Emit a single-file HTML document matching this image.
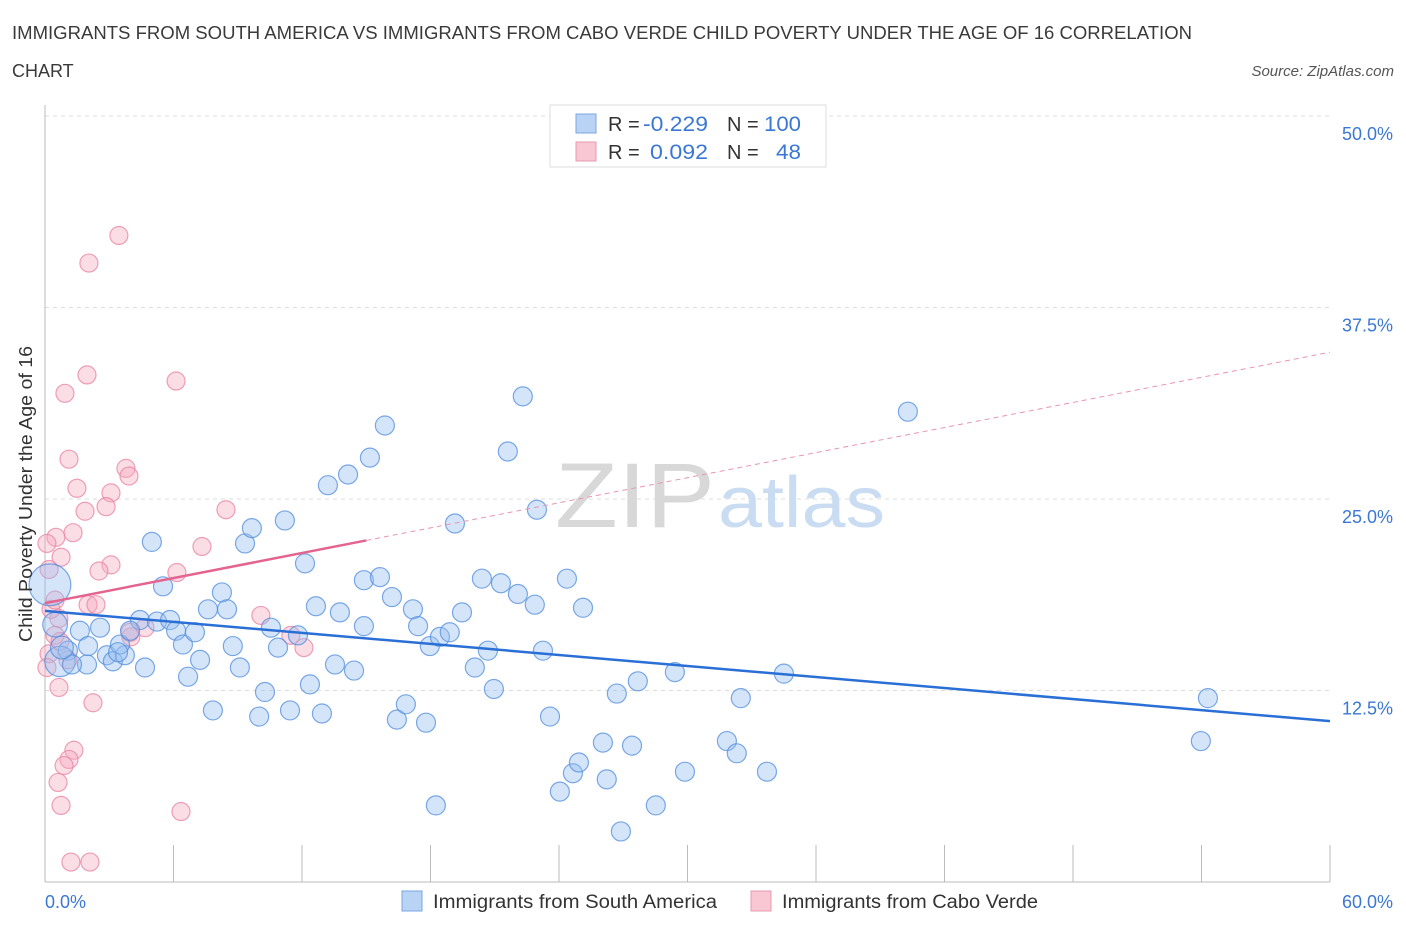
<!DOCTYPE html>
<html><head><meta charset="utf-8"><style>
body{margin:0;background:#fff;font-family:"Liberation Sans",sans-serif;}
svg text{font-family:"Liberation Sans",sans-serif;}
</style></head><body>
<svg width="1406" height="930" xmlns="http://www.w3.org/2000/svg" id="chart">
<text x="12" y="39" font-size="18" fill="#3a3a3a" textLength="1180" lengthAdjust="spacingAndGlyphs">IMMIGRANTS FROM SOUTH AMERICA VS IMMIGRANTS FROM CABO VERDE CHILD POVERTY UNDER THE AGE OF 16 CORRELATION</text>
<text x="12" y="77" font-size="18" fill="#3a3a3a">CHART</text>
<text x="1394" y="76" font-size="15" fill="#555" text-anchor="end" font-style="italic">Source: ZipAtlas.com</text>
<g id="grid"></g>
<text x="555" y="527" font-size="92" fill="#d8d8d8" textLength="160" lengthAdjust="spacingAndGlyphs" font-family="Liberation Serif">ZIP</text>
<text x="718" y="527" font-size="72" fill="#c9dcf2" textLength="167" lengthAdjust="spacingAndGlyphs">atlas</text>
<g id="pts"></g>
<g id="trend"></g>
<text x="32" y="494" font-size="18" fill="#333" text-anchor="middle" textLength="296" lengthAdjust="spacingAndGlyphs" transform="rotate(-90 32 494)">Child Poverty Under the Age of 16</text>
<text x="45" y="908" font-size="18" fill="#3a78d4">0.0%</text>
<text x="1393" y="908" font-size="18" fill="#3a78d4" text-anchor="end">60.0%</text>
<g>
<rect x="550" y="105" width="276" height="62" fill="#fff" stroke="#ddd"/>
<rect x="576" y="114" width="20" height="19" fill="#b9d3f5" stroke="#7aa7e2"/>
<rect x="576" y="142" width="20" height="19" fill="#f9c6d3" stroke="#e99ab0"/>
<text x="608" y="131" font-size="20" fill="#333">R =</text>
<text x="643" y="131" font-size="21" fill="#3a78d4" textLength="65" lengthAdjust="spacingAndGlyphs">-0.229</text>
<text x="727" y="131" font-size="20" fill="#333">N =</text>
<text x="764" y="131" font-size="21" fill="#3a78d4" textLength="37" lengthAdjust="spacingAndGlyphs">100</text>
<text x="608" y="159" font-size="20" fill="#333">R =</text>
<text x="650" y="159" font-size="21" fill="#3a78d4" textLength="58" lengthAdjust="spacingAndGlyphs">0.092</text>
<text x="727" y="159" font-size="20" fill="#333">N =</text>
<text x="776" y="159" font-size="21" fill="#3a78d4" textLength="25" lengthAdjust="spacingAndGlyphs">48</text>
</g>
<g>
<rect x="402" y="891" width="20" height="20" fill="#b9d3f5" stroke="#7aa7e2"/>
<text x="433" y="908" font-size="19" fill="#333" textLength="284" lengthAdjust="spacingAndGlyphs">Immigrants from South America</text>
<rect x="751" y="891" width="20" height="20" fill="#f9c6d3" stroke="#e99ab0"/>
<text x="782" y="908" font-size="19" fill="#333" textLength="256" lengthAdjust="spacingAndGlyphs">Immigrants from Cabo Verde</text>
</g>
</svg>
<script>
const yTicks=[12.5,25,37.5,50];
const yTickLabels=["12.5%","25.0%","37.5%","50.0%"];
const xTicks=[0,6,12,18,24,30,36,42,48,54,60];
const blueX=[2.57,1.63,1.07,1.96,2.89,3.17,3.73,4.67,3.5,4.43,3.97,5.23,5.84,6.12,6.44,7.0,7.24,6.68,7.84,7.61,8.26,8.5,8.77,9.1,9.34,9.66,10.0,10.27,10.55,10.88,11.2,11.44,11.81,12.14,12.37,12.65,12.93,13.21,13.54,13.77,14.15,14.43,14.89,14.89,15.17,15.64,15.87,16.2,16.43,16.85,17.18,17.42,17.79,17.97,18.25,18.44,18.9,19.14,19.47,20.07,20.4,20.68,20.96,21.29,21.61,22.08,22.31,22.87,22.97,23.25,23.58,24.04,24.37,24.65,24.93,25.12,26.05,26.23,26.7,26.89,27.41,27.68,28.52,29.41,29.88,31.84,32.3,32.49,33.71,34.5,40.29,53.97,54.3,0.23,0.7,0.47,1.26,0.79,2.01,3.41,4.99,5.51];
const blueY=[16.6,16.4,15.1,14.2,14.8,14.4,14.8,14.0,15.5,17.1,16.4,17.0,17.1,16.4,15.5,16.3,14.5,13.4,11.2,17.8,18.9,17.8,15.4,14.0,22.1,23.1,10.8,12.4,16.6,15.3,23.6,11.2,16.1,20.8,12.9,18.0,11.0,25.9,14.2,17.6,26.6,13.8,19.7,16.7,27.7,19.9,29.8,18.6,10.6,11.6,17.8,16.7,10.4,15.4,5.0,16.0,16.3,23.4,17.6,14.0,19.8,15.1,12.6,19.5,28.1,18.8,31.7,18.1,24.3,15.1,10.8,5.9,19.8,7.1,7.8,17.9,9.1,6.7,12.3,3.3,8.9,13.1,5.0,13.7,7.2,9.2,8.4,12.0,7.2,13.6,30.7,9.2,12.0,19.4,14.4,16.8,14.2,15.3,15.4,15.0,22.2,19.3];
const blueSize=[1,1,1,1,1,1,1,1,1,1,1,1,1,1,1,1,1,1,1,1,1,1,1,1,1,1,1,1,1,1,1,1,1,1,1,1,1,1,1,1,1,1,1,1,1,1,1,1,1,1,1,1,1,1,1,1,1,1,1,1,1,1,1,1,1,1,1,1,1,1,1,1,1,1,1,1,1,1,1,1,1,1,1,1,1,1,1,1,1,1,1,1,1,2.2,1.6,1.3,1,1.2,1,1,1,1];
const pinkX=[3.45,2.05,1.96,6.12,0.93,1.12,3.78,3.92,1.49,3.08,2.85,1.87,8.45,0.51,0.09,1.31,7.33,0.75,3.08,2.52,6.16,0.19,2.01,2.38,0.65,10.08,4.67,4.01,0.47,11.48,12.09,0.19,0.7,0.09,1.07,0.28,0.65,2.24,1.35,1.12,0.89,0.61,0.75,6.35,1.21,2.1,3.97,0.47];
const pinkY=[42.2,40.4,33.1,32.7,31.9,27.6,27.0,26.5,25.7,25.4,24.5,24.2,24.3,22.5,22.1,22.8,21.9,21.2,20.7,20.3,20.2,20.4,18.1,18.1,17.2,17.4,16.6,16.0,16.1,16.1,15.3,14.9,15.7,14.0,14.5,17.8,12.7,11.7,8.6,8.0,7.6,6.5,5.0,4.6,1.3,1.3,16.3,18.4];
const blueTrend=[17.7,-0.12];   // intercept, slope
const pinkTrend=[18.2,0.273];
const pinkSolidEnd=15;

const NS="http://www.w3.org/2000/svg";
const xs=v=>45+v*1285/60;
const ys=v=>882-v*15.32;
function mk(t,a,p){const e=document.createElementNS(NS,t);for(const k in a)e.setAttribute(k,a[k]);p.appendChild(e);return e;}
const grid=document.getElementById('grid');
yTicks.forEach((v,i)=>{
  const g=mk('line',{x1:45,y1:ys(v),x2:1330,y2:ys(v),stroke:'#ddd','stroke-dasharray':'4 4'},grid);
  
  
  const t=mk('text',{x:1393,y:ys(v)+24,'font-size':18,fill:'#3a78d4','text-anchor':'end'},grid);
  t.textContent=yTickLabels[i];
  
  
});
const ax=mk('line',{x1:45,y1:882,x2:1330,y2:882,stroke:'#bbb'},grid);


const ay=mk('line',{x1:45,y1:105,x2:45,y2:882,stroke:'#bbb'},grid);


xTicks.forEach(v=>{
  const t=mk('line',{x1:xs(v),y1:845,x2:xs(v),y2:882,stroke:'#bbb'},grid);
  
  
});
const pts=document.getElementById('pts');
pinkX.forEach((x,i)=>{
  const c=mk('circle',{cx:xs(x),cy:ys(pinkY[i]),r:9,fill:'rgba(245,170,192,0.4)',stroke:'rgba(232,130,160,0.75)','stroke-width':1.2},pts);
  
  
});
blueX.forEach((x,i)=>{
  const c=mk('circle',{cx:xs(x),cy:ys(blueY[i]),r:9.5*blueSize[i],fill:'rgba(150,190,240,0.4)',stroke:'rgba(80,140,220,0.75)','stroke-width':1.2},pts);
  
  
});
const tr=document.getElementById('trend');
const bl=mk('line',{x1:xs(0),y1:ys(blueTrend[0]),x2:xs(60),y2:ys(blueTrend[0]+60*blueTrend[1]),stroke:'#2a6fd6','stroke-width':2.5},tr);


const pl=mk('line',{x1:xs(0),y1:ys(pinkTrend[0]),x2:xs(pinkSolidEnd),y2:ys(pinkTrend[0]+pinkSolidEnd*pinkTrend[1]),stroke:'#e4638f','stroke-width':2.5},tr);


const pd=mk('line',{x1:xs(pinkSolidEnd),y1:ys(pinkTrend[0]+pinkSolidEnd*pinkTrend[1]),x2:xs(60),y2:ys(pinkTrend[0]+60*pinkTrend[1]),stroke:'#e894b0','stroke-width':1,'stroke-dasharray':'5 4'},tr);


</script>
</body></html>
